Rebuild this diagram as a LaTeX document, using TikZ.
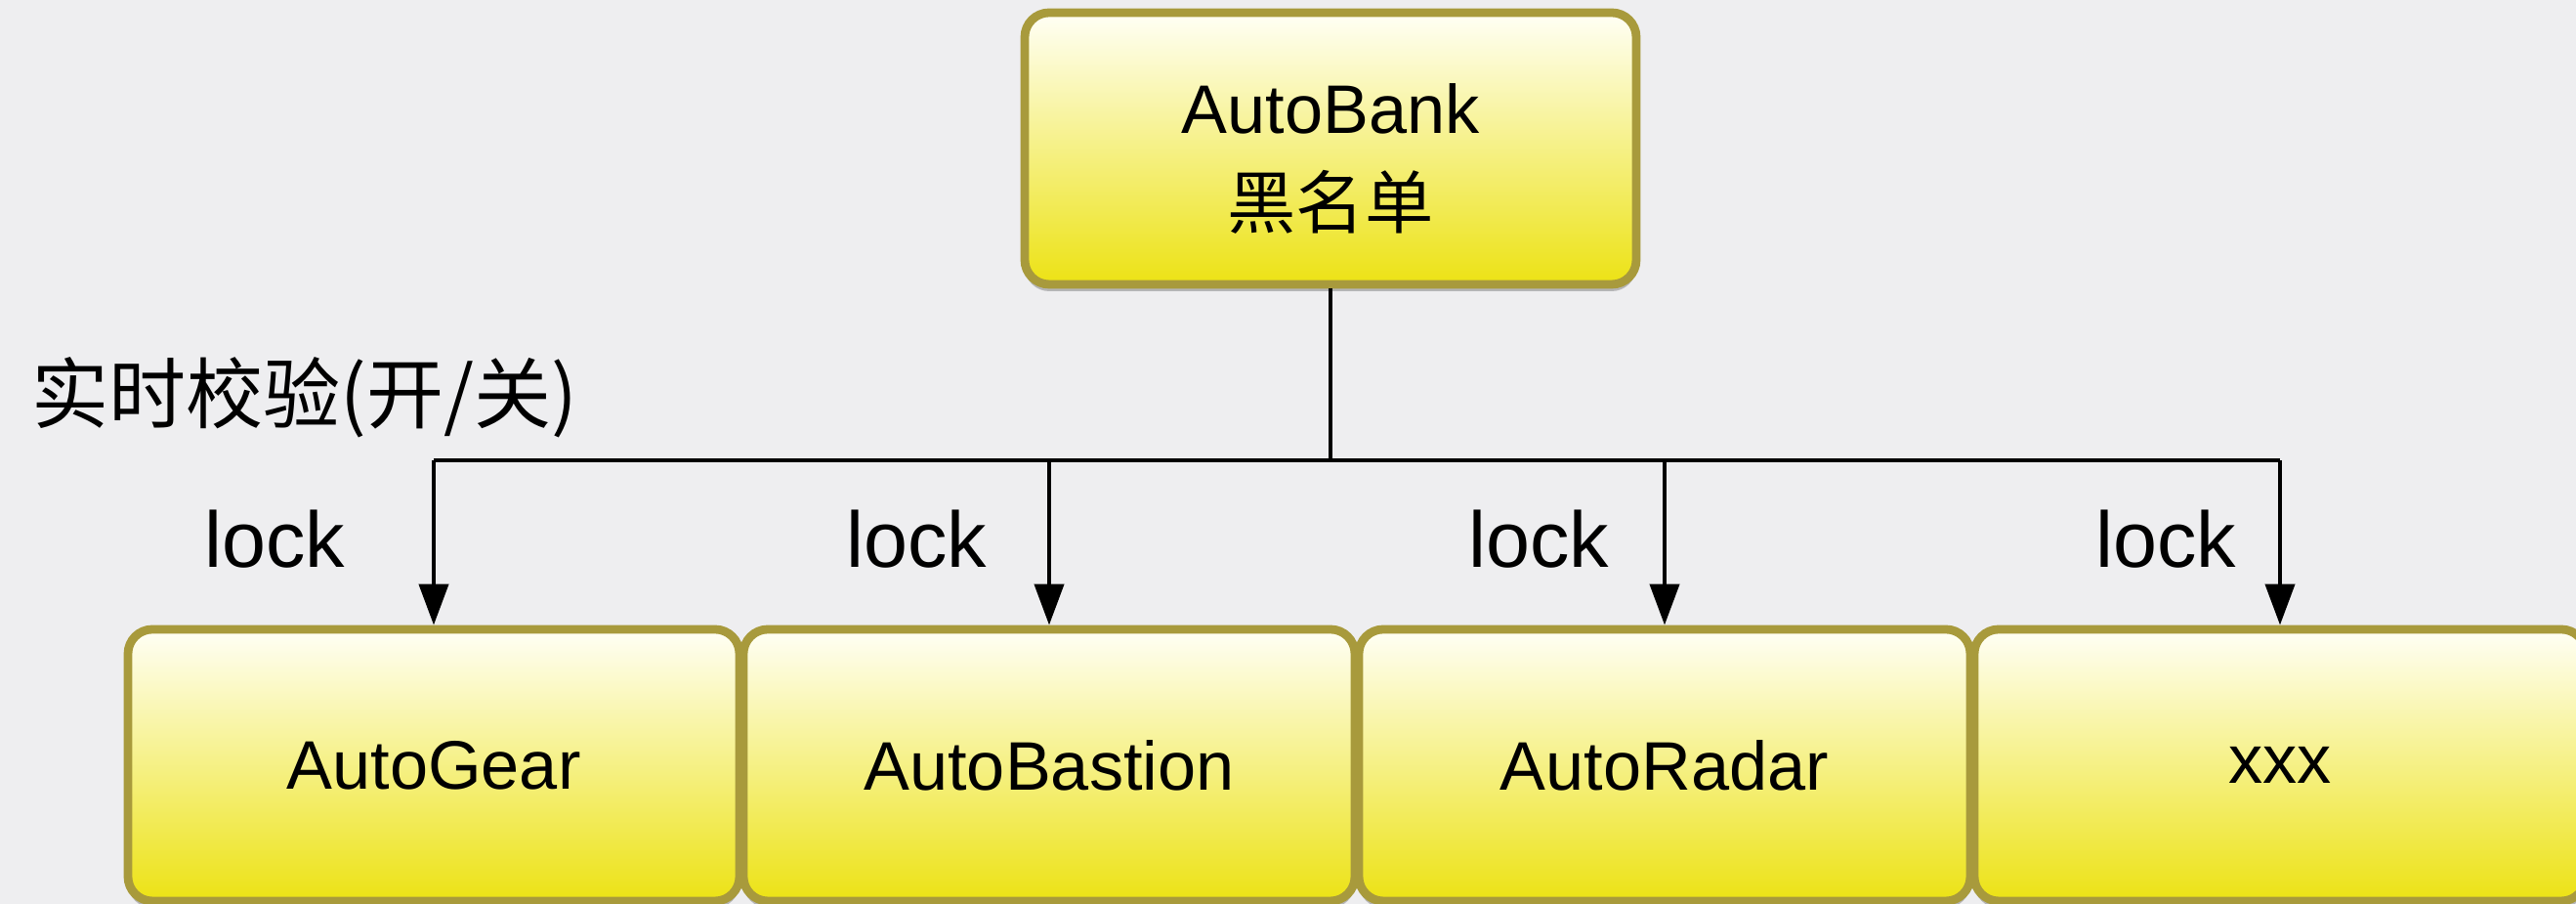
\documentclass[tikz,border=0pt]{standalone}
\usepackage{fontspec}
\setmainfont{Liberation Sans}
\newfontfamily\cjk{Noto Sans CJK SC}
\usepackage{xcolor}
\usepackage{tikz}
\usetikzlibrary{arrows.meta,shadows}
\definecolor{bg}{HTML}{EEEEF0}
\definecolor{frame}{HTML}{A89A3C}
\definecolor{fillTop}{HTML}{FFFFF6}
\definecolor{fillMid}{HTML}{F6F08C}
\definecolor{fillBot}{HTML}{ECE214}
\tikzset{
  yellowBox/.style={draw=frame, line width=2.5pt, rounded corners=0.25cm,
    top color=fillTop, middle color=fillMid, bottom color=fillBot,
    drop shadow={shadow xshift=0pt, shadow yshift=-0.07cm, opacity=0.35, fill=black!70},
    minimum width=6.26cm, minimum height=2.78cm, inner sep=0pt,
    align=center, font=\fontsize{20}{27.5}\selectfont},
  linkLine/.style={draw=black, line width=1.2pt},
  linkArrow/.style={linkLine, -{Triangle[length=0.42cm, width=0.3cm]}},
  lockLabel/.style={text=black, font=\fontsize{23}{26}\selectfont}
}
\begin{document}
\begin{tikzpicture}
  \useasboundingbox (0,0) rectangle (26.37,9.25);
  \clip (0,0) rectangle (26.37,9.25);
  \fill[bg] (0,0) rectangle (26.37,9.25);

  \node[yellowBox] (bank) at (13.62,7.73) {\rule{0pt}{0.72cm}AutoBank\\{\cjk 黑名单}};

  \node[yellowBox] (gear) at (4.44,1.42) {AutoGear};
  \node[yellowBox] (bastion) at (10.74,1.42) {AutoBastion};
  \node[yellowBox] (radar) at (17.04,1.42) {AutoRadar};
  \node[yellowBox] (xxx) at (23.34,1.42) {xxx};

  \coordinate (bus) at (13.62,4.54);
  \draw[linkLine] (bank.south) -- (bus);
  \draw[linkLine] (gear.north |- bus) -- (xxx.north |- bus);
  \draw[linkArrow] (gear.north |- bus) -- (gear.north);
  \draw[linkArrow] (bastion.north |- bus) -- (bastion.north);
  \draw[linkArrow] (radar.north |- bus) -- (radar.north);
  \draw[linkArrow] (xxx.north |- bus) -- (xxx.north);

  \node[lockLabel] (lockA) at (2.81,3.73) {lock};
  \node[lockLabel] (lockB) at (9.38,3.73) {lock};
  \node[lockLabel] (lockC) at (15.75,3.73) {lock};
  \node[lockLabel] (lockD) at (22.17,3.73) {lock};

  \node[anchor=west, font=\cjk\fontsize{22.5}{26}\selectfont] (check) at (0.2,5.18) {实时校验(开/关)};
\end{tikzpicture}
\end{document}
